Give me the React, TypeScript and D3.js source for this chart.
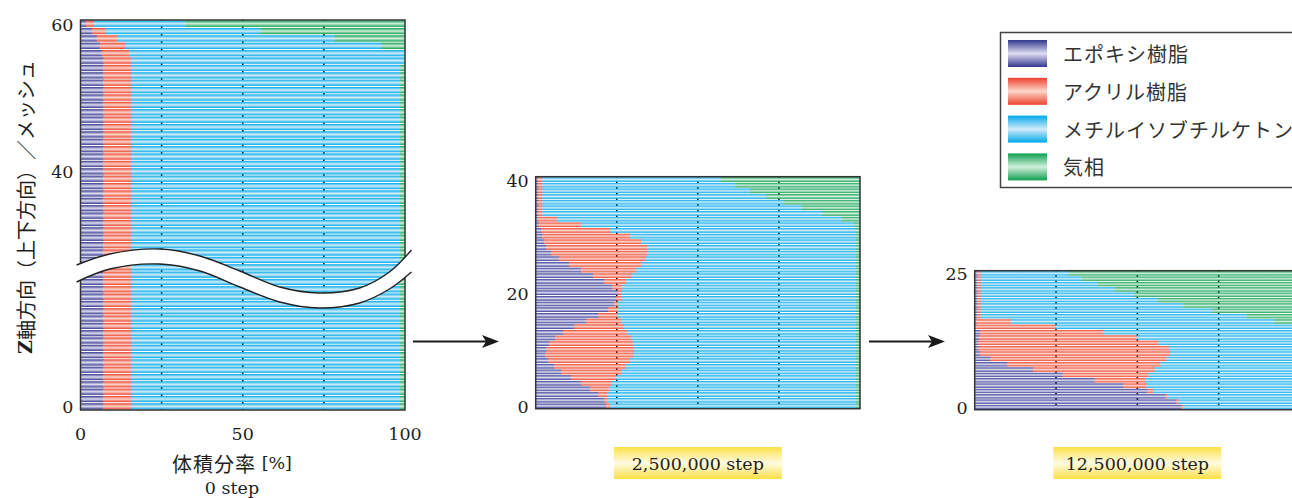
import React from 'react';
import * as d3 from 'd3';

// ---------- categories / labels ----------
const KEYS = ['epoxy', 'acrylic', 'mibk', 'gas'];
const LEGEND_LABELS = ['エポキシ樹脂', 'アクリル樹脂', 'メチルイソブチルケトン', '気相'];
const BASE = ['#33378f', '#ec422c', '#00a9ea', '#0ea04f'];
const LIGHT = ['#dedef2', '#fdd6cb', '#d2ecf9', '#d2efdd'];
const STEP_LABELS = ['0 step', '2,500,000 step', '12,500,000 step'];
const GRID_PCT = [25, 50, 75];
const X_TICKS = [0, 50, 100];
const P1_Y_TICKS = [0, 40, 60];
const P2_Y_TICKS = [0, 20, 40];
const P3_Y_TICKS = [0, 25];

// ---------- panel 1 : 0 step, z = 0..60 (volume fraction %) ----------
const P1_EPOXY = [
  7.0, 7.0, 7.0, 7.0, 7.0, 7.0, 7.0, 7.0, 7.0, 7.0, 7.0,
  7.0, 7.0, 7.0, 7.0, 7.0, 7.0, 7.0, 7.0, 7.0, 7.0, 7.0,
  7.0, 7.0, 7.0, 7.0, 7.0, 7.0, 7.0, 7.0, 7.0, 7.0, 7.0,
  7.0, 7.0, 7.0, 7.0, 7.0, 7.0, 7.0, 7.0, 7.0, 7.0, 7.0,
  7.0, 7.0, 7.0, 7.0, 7.0, 7.0, 7.0, 7.0, 7.0, 7.0, 7.0,
  7.0, 6.5, 5.9, 5.0, 3.5, 1.6,
];
const P1_ACRYLIC = [
  8.5, 8.5, 8.5, 8.5, 8.5, 8.5, 8.5, 8.5, 8.5, 8.5, 8.5,
  8.5, 8.5, 8.5, 8.5, 8.5, 8.5, 8.5, 8.5, 8.5, 8.5, 8.5,
  8.5, 8.5, 8.5, 8.5, 8.5, 8.5, 8.5, 8.5, 8.5, 8.5, 8.5,
  8.5, 8.5, 8.5, 8.5, 8.5, 8.5, 8.5, 8.5, 8.5, 8.5, 8.5,
  8.5, 8.5, 8.5, 8.5, 8.5, 8.5, 8.5, 8.5, 8.5, 8.5, 8.5,
  8.5, 8.5, 7.8, 6.3, 4.2, 2.5,
];
const P1_MIBK = [
  83.0, 83.0, 83.0, 83.0, 83.0, 83.0, 83.0, 83.0, 83.0, 83.0, 83.0,
  83.0, 83.0, 83.0, 83.0, 83.0, 83.0, 83.0, 83.0, 83.0, 83.0, 83.0,
  83.0, 83.0, 83.0, 83.0, 83.0, 83.0, 83.0, 83.0, 83.0, 83.0, 83.0,
  83.0, 83.0, 83.0, 83.0, 83.0, 83.0, 83.0, 83.0, 83.0, 83.0, 83.0,
  83.0, 83.0, 83.0, 83.0, 83.0, 83.0, 83.0, 83.0, 83.0, 83.0, 83.0,
  84.3, 84.8, 79.1, 66.9, 47.7, 28.2,
];
const P1_GAS = [
  1.5, 1.5, 1.5, 1.5, 1.5, 1.5, 1.5, 1.5, 1.5, 1.5, 1.5,
  1.5, 1.5, 1.5, 1.5, 1.5, 1.5, 1.5, 1.5, 1.5, 1.5, 1.5,
  1.5, 1.5, 1.5, 1.5, 1.5, 1.5, 1.5, 1.5, 1.5, 1.5, 1.5,
  1.5, 1.5, 1.5, 1.5, 1.5, 1.5, 1.5, 1.5, 1.5, 1.5, 1.5,
  1.5, 1.5, 1.5, 1.5, 1.5, 1.5, 1.5, 1.5, 1.5, 1.5, 1.5,
  0.2, 0.2, 7.2, 21.8, 44.6, 67.7,
];

// ---------- panel 2 : 2,500,000 step, z = 0..40 ----------
const P2_EPOXY = [
  21.7, 21.1, 19.2, 16.8, 14.0, 10.9, 7.8, 5.7, 3.8, 2.9,
  3.2, 4.1, 6.0, 8.4, 11.8, 15.5, 19.2, 22.3, 24.2, 24.8,
  25.2, 23.5, 21.1, 17.7, 14.0, 10.3, 7.2, 4.7, 3.2, 2.6,
  2.0, 1.6, 0.9, 0.6, 0.8, 0.8, 0.8, 0.8, 0.8, 0.8, 0.8,
];
const P2_ACRYLIC = [
  1.2, 0.9, 2.8, 5.8, 9.4, 13.9, 18.5, 22.0, 25.2, 27.1,
  27.0, 25.9, 23.4, 19.8, 15.3, 10.8, 6.1, 3.0, 1.1, 1.5,
  1.1, 3.0, 6.8, 11.7, 16.9, 22.2, 26.5, 29.7, 31.2, 29.9,
  27.1, 21.3, 13.1, 5.9, 1.2, 1.2, 1.2, 1.2, 1.2, 1.2, 1.2,
];
const P2_MIBK = [
  75.9, 76.8, 76.8, 76.2, 75.4, 74.0, 72.5, 71.1, 69.8, 68.8,
  68.6, 68.8, 69.4, 70.6, 71.7, 72.5, 73.5, 73.5, 73.5, 72.5,
  72.5, 72.3, 70.9, 69.4, 67.9, 66.3, 65.1, 64.4, 64.4, 66.3,
  69.7, 75.9, 84.2, 87.8, 86.3, 80.0, 74.4, 69.0, 64.1, 59.5, 55.1,
];
const P2_GAS = [
  1.2, 1.2, 1.2, 1.2, 1.2, 1.2, 1.2, 1.2, 1.2, 1.2,
  1.2, 1.2, 1.2, 1.2, 1.2, 1.2, 1.2, 1.2, 1.2, 1.2,
  1.2, 1.2, 1.2, 1.2, 1.2, 1.2, 1.2, 1.2, 1.2, 1.2,
  1.2, 1.2, 1.8, 5.7, 11.7, 18.0, 23.6, 29.0, 33.9, 38.5, 42.9,
];

// ---------- panel 3 : 12,500,000 step, z = 0..25 ----------
const P3_EPOXY = [
  63.5, 61.9, 58.6, 53.1, 45.7, 36.8, 27.0, 17.9, 9.9, 4.7,
  1.6, 1.0, 1.0, 1.3, 1.6, 0.5, 0.5, 0.8, 0.8, 0.8,
  0.8, 0.8, 0.8, 0.8, 0.8, 0.8,
];
const P3_ACRYLIC = [
  0.6, 0.7, 0.6, 1.7, 7.1, 15.6, 26.4, 37.4, 47.2, 54.2,
  58.4, 58.7, 55.4, 48.5, 38.0, 24.3, 10.7, 1.0, 1.0, 1.0,
  1.0, 1.0, 1.0, 1.0, 1.0, 1.0,
];
const P3_MIBK = [
  34.6, 36.1, 39.5, 43.9, 45.9, 46.3, 45.3, 43.4, 41.6, 39.8,
  38.7, 39.0, 42.3, 48.9, 59.1, 73.9, 80.9, 81.7, 71.3, 62.3,
  54.3, 47.2, 41.3, 36.0, 31.1, 27.1,
];
const P3_GAS = [
  1.3, 1.3, 1.3, 1.3, 1.3, 1.3, 1.3, 1.3, 1.3, 1.3,
  1.3, 1.3, 1.3, 1.3, 1.3, 1.3, 7.9, 16.5, 26.9, 35.9,
  43.9, 51.0, 56.9, 62.2, 67.1, 71.1,
];

type Row = { z: number; epoxy: number; acrylic: number; mibk: number; gas: number };

function buildRows(e: number[], a: number[], m: number[], g: number[]): Row[] {
  return e.map((v, i) => ({ z: i, epoxy: v, acrylic: a[i], mibk: m[i], gas: g[i] }));
}

const SERIF = "'DejaVu Serif', serif";
const JP = "'Noto Sans CJK JP', 'Noto Sans CJK SC', sans-serif";
const TXT = '#1e1e1e';
const NUM_SIZE = 17.5;

type PanelProps = {
  rows: Row[];
  left: number;
  right: number;
  top: number;
  bottom: number;
  yScale: (v: number) => number;
  yTicks: number[];
  gap: number;
};

function Panel({ rows, left, right, top, bottom, yScale, yTicks, gap }: PanelProps) {
  const x = d3.scaleLinear().domain([0, 100]).range([left, right]);
  const series = d3.stack<Row>().keys(KEYS)(rows);
  return (
    <g>
      {GRID_PCT.map((g) => (
        <line key={g} x1={x(g)} x2={x(g)} y1={top} y2={bottom} stroke="#111" strokeWidth={1.6} />
      ))}
      {series.map((s, k) => (
        <g key={s.key} fill={`url(#grad-${s.key})`}>
          {s.map((d) => {
            const z = d.data.z;
            const y0 = yScale(z + 0.5);
            const y1 = yScale(z - 0.5);
            const h = y1 - y0;
            const w = x(d[1]) - x(d[0]);
            if (h < 1 || w <= 0.05) return null;
            const overlap = k < KEYS.length - 1 ? 0.4 : 0;
            return (
              <rect
                key={z}
                x={x(d[0])}
                y={y0 + gap / 2}
                width={Math.min(w + overlap, right - x(d[0]))}
                height={h - gap}
              />
            );
          })}
        </g>
      ))}
      <rect
        x={left}
        y={top}
        width={right - left}
        height={bottom - top}
        fill="none"
        stroke="#333"
        strokeWidth={1.5}
      />
      {yTicks.map((t) => (
        <text
          key={t}
          x={left - 7}
          y={yScale(t) + 1}
          textAnchor="end"
          dominantBaseline="central"
          fontFamily={SERIF}
          fontSize={NUM_SIZE}
          fill={TXT}
        >
          {t}
        </text>
      ))}
    </g>
  );
}

// break (wavy cut) of panel 1 – decorative, expressed as fraction of panel width
const BREAK_U = [-0.012, 0.09, 0.245, 0.368, 0.491, 0.614, 0.737, 0.86, 0.952, 1.02];
const BREAK_TOP = [265, 254, 249, 256, 271, 287, 293, 288, 272, 250];
const BREAK_BOT = [282, 269, 264, 271, 287, 302, 308, 303, 289, 272];

export default function App() {
  const p1 = { left: 80.5, right: 405, top: 20, bottom: 410 };
  const p2 = { left: 535.7, right: 860, top: 176.7, bottom: 408.7 };
  const p3 = { left: 974.7, right: 1300, top: 270.7, bottom: 409.7 };

  const y1 = d3.scaleLinear().domain([-0.5, 18.5, 26.5, 60.5]).range([p1.bottom, 271, 271, p1.top]);
  const y2 = d3.scaleLinear().domain([-0.5, 40.5]).range([p2.bottom, p2.top]);
  const y3 = d3.scaleLinear().domain([-0.5, 25.5]).range([p3.bottom, p3.top]);

  const rows1 = buildRows(P1_EPOXY, P1_ACRYLIC, P1_MIBK, P1_GAS);
  const rows2 = buildRows(P2_EPOXY, P2_ACRYLIC, P2_MIBK, P2_GAS);
  const rows3 = buildRows(P3_EPOXY, P3_ACRYLIC, P3_MIBK, P3_GAS);

  const x1 = d3.scaleLinear().domain([0, 100]).range([p1.left, p1.right]);

  const breakPts = BREAK_U.map((u, i) => ({
    x: p1.left + u * (p1.right - p1.left),
    t: BREAK_TOP[i],
    b: BREAK_BOT[i],
  }));
  const breakArea = d3
    .area<{ x: number; t: number; b: number }>()
    .x((d) => d.x)
    .y0((d) => d.t)
    .y1((d) => d.b)
    .curve(d3.curveCatmullRom)(breakPts);
  const lineTop = d3
    .line<{ x: number; t: number; b: number }>()
    .x((d) => d.x)
    .y((d) => d.t)
    .curve(d3.curveCatmullRom)(breakPts);
  const lineBot = d3
    .line<{ x: number; t: number; b: number }>()
    .x((d) => d.x)
    .y((d) => d.b)
    .curve(d3.curveCatmullRom)(breakPts);

  const arrows = [
    { x0: 413, x1: 499, y: 341.5 },
    { x0: 869, x1: 945, y: 341.5 },
  ];

  const stepBoxes = [
    { cx: (p2.left + p2.right) / 2, label: STEP_LABELS[1] },
    { cx: (p3.left + p3.right) / 2, label: STEP_LABELS[2] },
  ];

  const legend = { x: 1000.5, y: 32.5, w: 340, h: 155, pitch: 37.8 };

  return (
    <svg
      width={1292}
      height={498}
      viewBox="0 0 1292 498"
      style={{ position: 'fixed', left: 0, top: 0, display: 'block', background: '#fff' }}
    >
      <defs>
        {KEYS.map((k, i) => (
          <linearGradient key={k} id={`grad-${k}`} x1="0" y1="0" x2="0" y2="1">
            <stop offset="0" stopColor={BASE[i]} />
            <stop offset="0.5" stopColor={LIGHT[i]} />
            <stop offset="1" stopColor={BASE[i]} />
          </linearGradient>
        ))}
        <linearGradient id="grad-yellow" x1="0" y1="0" x2="0" y2="1">
          <stop offset="0" stopColor="#fde047" />
          <stop offset="0.5" stopColor="#fffbe2" />
          <stop offset="1" stopColor="#fde047" />
        </linearGradient>
      </defs>
      <rect x={0} y={0} width={1292} height={498} fill="#fff" />

      <Panel rows={rows1} {...p1} yScale={y1} yTicks={P1_Y_TICKS} gap={1.1} />
      <Panel rows={rows2} {...p2} yScale={y2} yTicks={P2_Y_TICKS} gap={1} />
      <Panel rows={rows3} {...p3} yScale={y3} yTicks={P3_Y_TICKS} gap={1} />

      {/* break mark */}
      <path d={breakArea || ''} fill="#fff" />
      <path d={lineTop || ''} fill="none" stroke="#222" strokeWidth={1.4} />
      <path d={lineBot || ''} fill="none" stroke="#222" strokeWidth={1.4} />

      {/* x axis of panel 1 */}
      {X_TICKS.map((t) => (
        <text
          key={t}
          x={x1(t)}
          y={434}
          textAnchor="middle"
          dominantBaseline="central"
          fontFamily={SERIF}
          fontSize={NUM_SIZE}
          fill={TXT}
        >
          {t}
        </text>
      ))}
      <text x={232} y={463} textAnchor="middle" dominantBaseline="central" fill={TXT}>
        <tspan fontFamily={JP} fontSize={20} letterSpacing={1}>
          体積分率
        </tspan>
        <tspan fontFamily={SERIF} fontSize={17.5}>
          {' [%]'}
        </tspan>
      </text>
      <text
        x={232}
        y={488}
        textAnchor="middle"
        dominantBaseline="central"
        fontFamily={SERIF}
        fontSize={NUM_SIZE}
        fill={TXT}
      >
        {STEP_LABELS[0]}
      </text>

      {/* y axis title */}
      <text
        transform="translate(25,207) rotate(-90)"
        textAnchor="middle"
        dominantBaseline="central"
        fill={TXT}
      >
        <tspan fontFamily={SERIF} fontSize={19} fontWeight="bold">
          Z
        </tspan>
        <tspan fontFamily={JP} fontSize={20}>
          軸方向（上下方向）／メッシュ
        </tspan>
      </text>

      {/* arrows */}
      {arrows.map((a, i) => (
        <g key={i}>
          <line x1={a.x0} x2={a.x1 - 10} y1={a.y} y2={a.y} stroke="#1a1a1a" strokeWidth={2} />
          <path
            d={`M${a.x1},${a.y} L${a.x1 - 17},${a.y - 6.5} L${a.x1 - 13},${a.y} L${a.x1 - 17},${a.y + 6.5} Z`}
            fill="#1a1a1a"
          />
        </g>
      ))}

      {/* step boxes */}
      {stepBoxes.map((b, i) => (
        <g key={i}>
          <rect x={b.cx - 84} y={447} width={168} height={32} fill="url(#grad-yellow)" />
          <text
            x={b.cx}
            y={463.5}
            textAnchor="middle"
            dominantBaseline="central"
            fontFamily={SERIF}
            fontSize={NUM_SIZE}
            fill={TXT}
          >
            {b.label}
          </text>
        </g>
      ))}

      {/* legend */}
      <rect
        x={legend.x}
        y={legend.y}
        width={legend.w}
        height={legend.h}
        fill="#fff"
        stroke="#444"
        strokeWidth={1.5}
      />
      {KEYS.map((k, i) => (
        <g key={k}>
          <rect
            x={1008}
            y={40 + i * legend.pitch}
            width={39}
            height={27}
            fill={`url(#grad-${k})`}
          />
          <text
            x={1063}
            y={53.5 + i * legend.pitch}
            dominantBaseline="central"
            fontFamily={JP}
            fontSize={20}
            letterSpacing={1}
            fill="#333"
          >
            {LEGEND_LABELS[i]}
          </text>
        </g>
      ))}
    </svg>
  );
}
